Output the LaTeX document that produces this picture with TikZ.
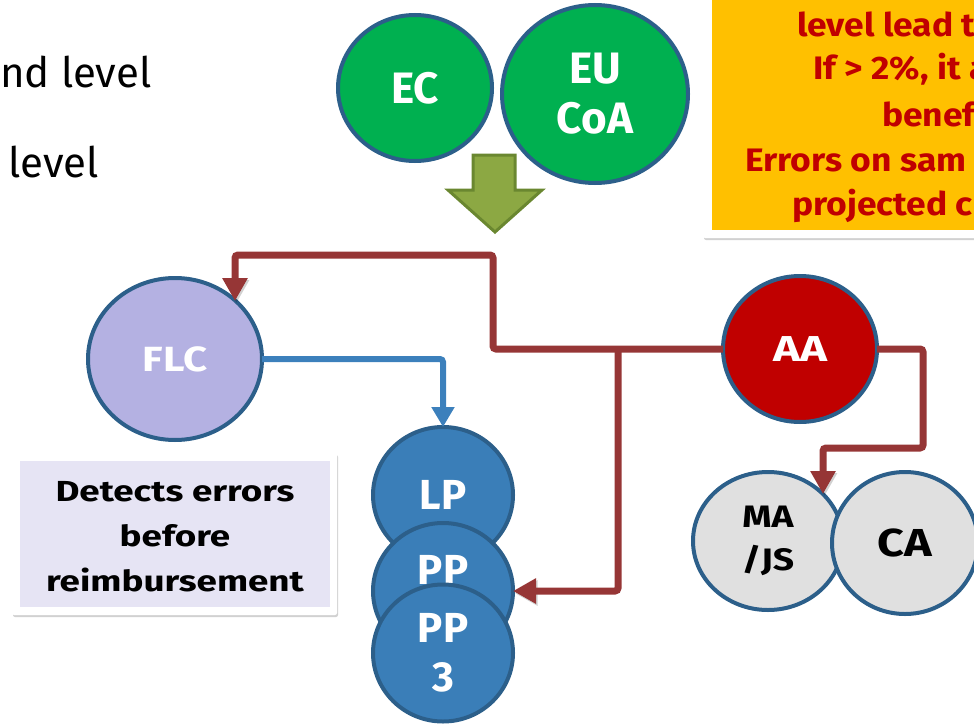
\documentclass[tikz,border=0pt]{standalone}
\usepackage{fontspec}
\setmainfont{Fira Sans}
\newfontfamily\wideA[FakeStretch=1.2]{Fira Sans}
\newfontfamily\wideB[FakeStretch=1.27]{Fira Sans}
\newfontfamily\wideY[FakeStretch=1.09]{Fira Sans}
\usetikzlibrary{arrows.meta,shadows,calc,shapes.geometric}
\definecolor{cgreen}{HTML}{00B050}
\definecolor{cborder}{HTML}{2C5F8A}
\definecolor{colive}{HTML}{8CA843}
\definecolor{coliveb}{HTML}{6A8730}
\definecolor{clav}{HTML}{B4B1E2}
\definecolor{cblue}{HTML}{3A7EB8}
\definecolor{cbluel}{HTML}{3C80BC}
\definecolor{cred}{HTML}{C00000}
\definecolor{cconn}{HTML}{963636}
\definecolor{cgray}{HTML}{E0E0E0}
\definecolor{cbox}{HTML}{E6E4F4}
\definecolor{cyel}{HTML}{FFC000}
\tikzset{
  circ/.style={ellipse, draw=cborder, line width=4pt, inner sep=0pt, outer sep=0pt, align=center, font=\bfseries},
  wtext/.style={text=white},
  connshadow/.style={preaction={draw=black, draw opacity=0.18, transform canvas={shift={(1.5pt,-2pt)}}}},
  redconn/.style={draw=cconn, line width=7pt, rounded corners=3pt, -{Triangle[width=24pt,length=23pt]}, connshadow},
  blueconn/.style={draw=cbluel, line width=6pt, rounded corners=3pt, -{Triangle[width=22pt,length=20pt]}},
  frame/.style={fill=white, draw=none, rounded corners=2pt, drop shadow={shadow xshift=1pt, shadow yshift=-2pt, opacity=0.3, fill=black!60}},
  ytext/.style={anchor=base west, text=cred, font=\wideY\fontsize{32.5}{38}\selectfont\bfseries, inner sep=0pt},
  plain/.style={anchor=base west, font=\fontsize{42}{50}\selectfont, inner sep=0pt}
}
\begin{document}
\begin{tikzpicture}[x=1pt,y=-1pt]
\useasboundingbox (0,0) rectangle (974,725);
\clip (0,0) rectangle (974,725);
% top-left text
\node[plain] (t1) at (0,88) {nd level};
\node[plain] (t2) at (8,177) {level};
% yellow box
\path[frame] (703,-20) rectangle (1000,238);
\fill[cyel] (712,-20) rectangle (1000,230);
\node[ytext] (y1) at (797,37) {level lead t};
\node[ytext] (y2) at (813,80) {If > 2\%, it a};
\node[ytext] (y3) at (882,126) {benef};
\node[ytext] (y4) at (745,171) {Errors on sam};
\node[ytext] (y5) at (792,215) {projected c};
% top circles
\node[circ, fill=cgreen, wtext, minimum width=154pt, minimum height=146pt, font=\fontsize{44}{50}\selectfont\bfseries] (EC) at (415,88) {EC};
\node[circ, fill=cgreen, wtext, minimum width=186pt, minimum height=178pt, font=\fontsize{44}{50}\selectfont\bfseries] (EU) at (595,94) {EU\\CoA};
% green block arrow
\draw[fill=colive, draw=coliveb, line width=3pt, line join=miter] (473,155) -- (515,155) -- (515,190) -- (542,190) -- (495,232) -- (448,190) -- (473,190) -- cycle;
% text box
\path[frame] (12,453) rectangle (337,615);
\fill[cbox] (20,461) rectangle (330,607);
\node[align=center, font=\wideB\fontsize{29}{45}\selectfont\bfseries] (det) at (175,537) {Detects errors\\before\\reimbursement};
% nodes
\node[circ, fill=clav, wtext, minimum width=174pt, minimum height=162pt, font=\wideA\fontsize{35}{40}\selectfont\bfseries] (FLC) at (175,359) {FLC};
\node[circ, fill=cred, wtext, minimum width=154pt, minimum height=146pt, font=\wideB\fontsize{36}{40}\selectfont\bfseries] (AA) at (800,349) {AA};
\node[circ, fill=cblue, wtext, minimum width=140pt, minimum height=136pt, font=\fontsize{42}{49}\selectfont\bfseries] (LP) at (443,495) {LP};
\node[circ, fill=cblue, wtext, minimum width=140pt, minimum height=136pt, font=\fontsize{42}{49}\selectfont\bfseries] (PP) at (443,591) {\raisebox{21pt}[\height][\depth]{PP}};
\node[circ, fill=cblue, wtext, minimum width=140pt, minimum height=137pt, font=\fontsize{42}{49}\selectfont\bfseries] (PP3) at (443,653) {PP\\3};
\node[circ, fill=cgray, minimum width=150pt, minimum height=138pt, font=\wideA\fontsize{31}{43}\selectfont\bfseries] (MA) at (768,541) {MA\\/JS};
\node[circ, fill=cgray, minimum width=146pt, minimum height=142pt, font=\wideA\fontsize{39}{44}\selectfont\bfseries] (CA) at (905,543) {CA};
% connectors
\coordinate (j1) at (493,255);
\coordinate (flcin) at ($(FLC.center)+(60,-58)$);
\coordinate (j2) at (618,349);
\coordinate (j3) at (923,448);
\coordinate (main) at ($(MA.center)+(55,-47)$);
\draw[redconn] (AA.west) -| (j1) -| (flcin);
\draw[redconn] (j2) |- (PP.east);
\draw[blueconn] (FLC.east) -| (LP.north);
\draw[redconn] (AA.east) -| (j3) -| (main);
\end{tikzpicture}
\end{document}
